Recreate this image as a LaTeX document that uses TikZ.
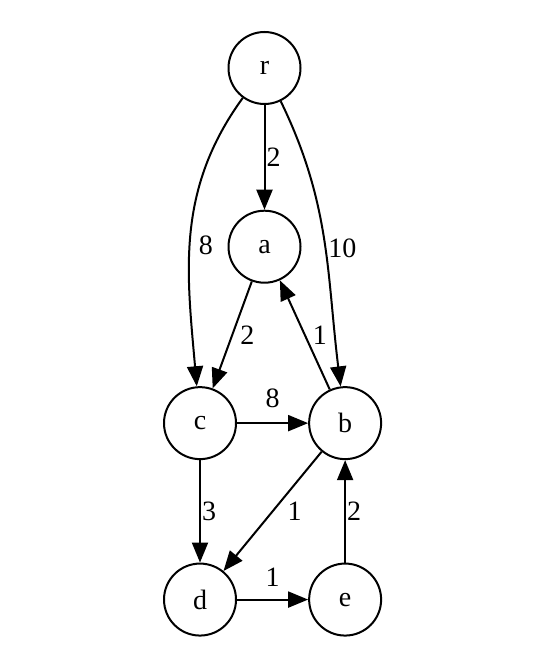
\documentclass[tikz,border=0pt]{standalone}
\usepackage{fontspec}
\setmainfont{Liberation Serif}
\usetikzlibrary{arrows.meta,positioning}

\begin{document}
\begin{tikzpicture}[
  node distance=1.8cm,
  vertex/.style={draw, circle, line width=1pt, minimum size=36pt,
                 inner sep=0pt, font=\fontsize{14}{16}\selectfont},
  edge/.style={-{Triangle[length=10pt,width=8pt]}, line width=1pt},
  weight/.style={font=\fontsize{14}{16}\selectfont, inner sep=1pt}
]
\node[vertex] (r) {r};
\node[vertex, below=1.84cm of r]          (a) {a};
\node[vertex, below=of a, xshift=-32.25pt] (c) {c};
\node[vertex, right=1.25cm of c]          (b) {b};
\node[vertex, below=of c]                 (d) {d};
\node[vertex, right=1.25cm of d]          (e) {e};
\draw[edge] (r) -- node[weight, right, inner sep=0.5pt] {2} (a);
\draw[edge] (r) to[out=234, in=95] node[weight, right=3pt, pos=0.54] {8} (c);
\draw[edge] (r) to[out=-64, in=97] node[weight, right, pos=0.53] {10} (b);
\draw[edge] (a) -- node[weight, right=2.5pt] {2} (c);
\draw[edge] (b) -- node[weight, right=2.5pt] {1} (a);
\draw[edge] (c) -- node[weight, above=6pt] {8} (b);
\draw[edge] (c) -- node[weight, right, inner sep=0.5pt] {3} (d);
\draw[edge] (b) -- node[weight, right=6pt] {1} (d);
\draw[edge] (e) -- node[weight, right, inner sep=0.5pt] {2} (b);
\draw[edge] (d) -- node[weight, above=5pt] {1} (e);
\useasboundingbox ([shift={(-132.25pt,34pt)}]r.center) rectangle ++(273pt,-331pt);
\end{tikzpicture}
\end{document}
